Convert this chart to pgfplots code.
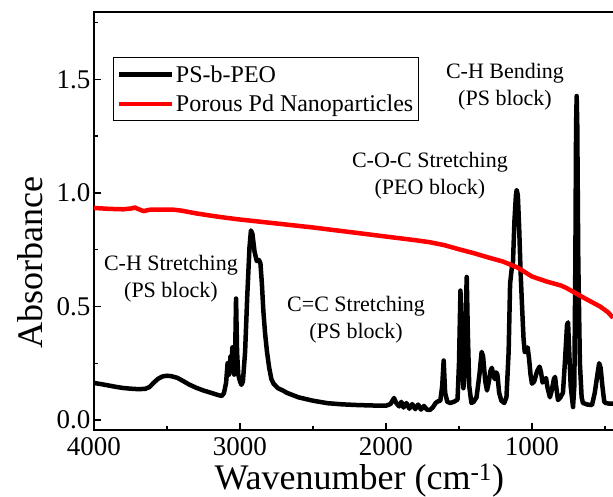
\documentclass[border=0pt]{standalone}
\usepackage{fontspec}
\setmainfont{Liberation Serif}
\usepackage{pgfplots}
\pgfplotsset{compat=1.18}
\begin{document}
\begin{tikzpicture}
\useasboundingbox (-94pt,-67pt) rectangle (519pt,430pt);
\begin{axis}[
  at={(0pt,0pt)}, anchor=south west,
  scale only axis, width=547.5pt, height=418pt,
  x dir=reverse, xmin=250, xmax=4000, ymin=-0.044, ymax=1.797,
  axis line style={line width=1.6pt},
  tick pos=left, tick align=inside,
  major tick length=7pt, minor tick length=4pt,
  every tick/.style={line width=1.4pt, black},
  xtick={1000,2000,3000,4000}, minor xtick={500,1500,2500,3500},
  ytick={0,0.5,1,1.5}, minor ytick={0.25,0.75,1.25,1.75},
  /pgf/number format/assume math mode=true,
  tick label style={font=\fontsize{27}{30}\selectfont},
  xticklabel style={/pgf/number format/set thousands separator={}, yshift=-4pt},
  yticklabel style={/pgf/number format/.cd, fixed, fixed zerofill, precision=1},
  xlabel={Wavenumber (cm\textsuperscript{-1})},
  ylabel={Absorbance},
  xlabel style={font=\fontsize{36}{40}\selectfont, inner sep=0pt, at={(axis description cs:0.4845,-0.121)}, anchor=center},
  ylabel style={font=\fontsize{36}{40}\selectfont, at={(axis description cs:-0.117,0.40)}, anchor=center, rotate=0},
  legend style={at={(axis description cs:0.0347,0.892)}, anchor=north west,
    font=\fontsize{24}{28}\selectfont, draw=black, line width=1pt,
    inner xsep=3pt, inner ysep=6pt, row sep=7pt},
  legend cell align=left,
  legend image code/.code={\draw[#1] (0pt,0pt) -- (53pt,0pt);},
]
\addplot[black, line width=4.5pt, line join=round] coordinates {
(4000,0.163) (3950,0.158) (3900,0.152) (3850,0.146) (3800,0.141) (3750,0.138)
(3700,0.136) (3650,0.137) (3620,0.145) (3590,0.165) (3560,0.182) (3530,0.192)
(3500,0.195) (3470,0.193) (3430,0.186) (3390,0.172) (3350,0.157) (3300,0.142)
(3250,0.130) (3200,0.120) (3150,0.110) (3125,0.106) (3110,0.118) (3095,0.165)
(3085,0.250) (3075,0.200) (3065,0.280) (3058,0.240) (3052,0.320) (3045,0.230)
(3040,0.200) (3033,0.300) (3027,0.535) (3020,0.300) (3012,0.200) (3000,0.170)
(2990,0.155) (2980,0.170) (2965,0.300) (2950,0.550) (2935,0.760) (2925,0.835)
(2915,0.820) (2900,0.740) (2885,0.700) (2870,0.705) (2860,0.690) (2850,0.600)
(2840,0.480) (2828,0.380) (2815,0.300) (2800,0.230) (2785,0.180) (2770,0.160)
(2740,0.140) (2700,0.128) (2680,0.120) (2600,0.100) (2500,0.085) (2400,0.074)
(2300,0.069) (2200,0.066) (2100,0.064) (2000,0.063) (1970,0.070) (1945,0.097)
(1930,0.075) (1910,0.060) (1895,0.080) (1880,0.055) (1860,0.075) (1840,0.050)
(1820,0.070) (1800,0.048) (1780,0.068) (1760,0.046) (1740,0.062) (1720,0.046)
(1700,0.044) (1680,0.055) (1660,0.075) (1645,0.082) (1628,0.085) (1615,0.150)
(1605,0.262) (1595,0.120) (1580,0.080) (1560,0.075) (1535,0.080) (1510,0.090)
(1500,0.250) (1490,0.570) (1480,0.300) (1470,0.140) (1462,0.200) (1455,0.450)
(1447,0.630) (1440,0.400) (1430,0.150) (1415,0.075) (1400,0.080) (1380,0.100)
(1360,0.200) (1345,0.300) (1335,0.280) (1320,0.170) (1308,0.130) (1295,0.170)
(1285,0.215) (1275,0.230) (1265,0.200) (1255,0.180) (1245,0.210) (1237,0.200)
(1225,0.120) (1210,0.085) (1190,0.075) (1175,0.100) (1160,0.300) (1150,0.600)
(1140,0.660) (1130,0.700) (1120,0.880) (1110,0.990) (1105,1.013) (1097,0.990)
(1088,0.850) (1078,0.650) (1068,0.500) (1058,0.360) (1050,0.300) (1040,0.300)
(1030,0.320) (1020,0.270) (1010,0.200) (1000,0.160) (985,0.170) (965,0.215)
(948,0.235) (938,0.210) (928,0.165) (915,0.175) (904,0.185) (893,0.140)
(877,0.100) (865,0.130) (850,0.180) (842,0.190) (835,0.150) (822,0.088)
(805,0.100) (788,0.120) (775,0.250) (760,0.420) (753,0.430) (745,0.300)
(735,0.150) (719,0.057) (710,0.150) (703,0.700) (698,1.300) (694,1.427)
(690,1.300) (683,0.700) (672,0.250) (660,0.100) (651,0.075) (620,0.068)
(589,0.066) (570,0.120) (552,0.200) (540,0.250) (530,0.230) (518,0.150)
(505,0.080) (495,0.075) (470,0.072) (445,0.072)
};
\addlegendentry{PS-b-PEO}
\addplot[red, line width=4.5pt, line join=round] coordinates {
(4000,0.934) (3900,0.930) (3800,0.928) (3740,0.932) (3720,0.936) (3700,0.930)
(3660,0.920) (3620,0.926) (3550,0.927) (3450,0.926) (3400,0.922) (3300,0.910)
(3200,0.900) (3100,0.891) (3000,0.883) (2900,0.876) (2800,0.869) (2700,0.862)
(2600,0.855) (2500,0.848) (2400,0.840) (2300,0.832) (2200,0.824) (2100,0.816)
(2000,0.808) (1900,0.800) (1800,0.792) (1700,0.783) (1600,0.770) (1500,0.752)
(1400,0.735) (1300,0.716) (1200,0.698) (1100,0.672) (1000,0.632) (900,0.610)
(800,0.592) (760,0.580) (650,0.540) (534,0.500) (480,0.475) (445,0.450)
};
\addlegendentry{Porous Pd Nanoparticles}
\node[align=center, font=\fontsize{22}{27}\selectfont] at (axis cs:1185,1.467) {C-H Bending\\(PS block)};
\node[align=center, font=\fontsize{22}{27}\selectfont] at (axis cs:1699,1.075) {C-O-C Stretching\\(PEO block)};
\node[align=center, font=\fontsize{22}{27}\selectfont] at (axis cs:3473,0.621) {C-H Stretching\\(PS block)};
\node[align=center, font=\fontsize{22}{27}\selectfont] at (axis cs:2205,0.440) {C=C Stretching\\(PS block)};
\end{axis}
\end{tikzpicture}
\end{document}
